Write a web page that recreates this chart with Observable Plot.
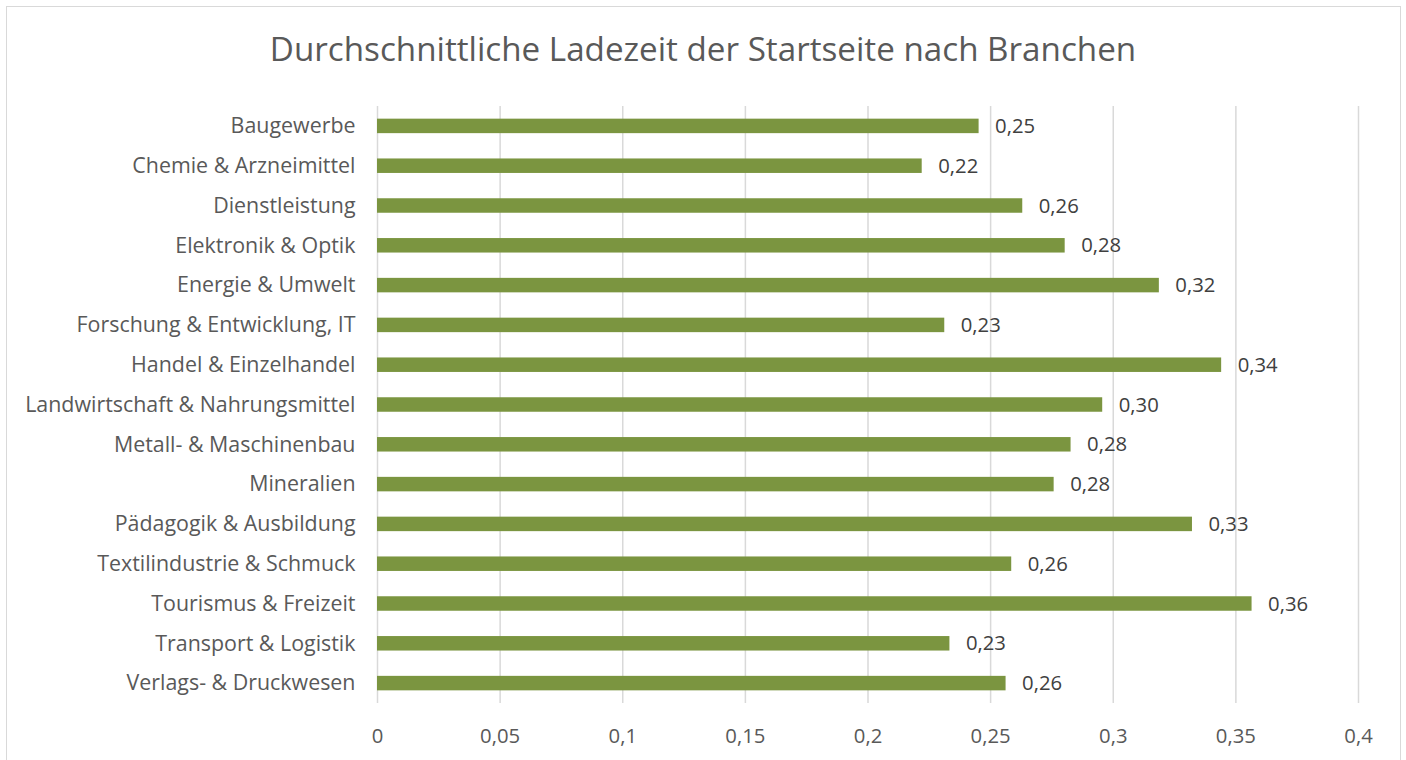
<!DOCTYPE html>
<html>
<head>
<meta charset="utf-8">
<script src="https://cdn.jsdelivr.net/npm/d3@7"></script>
<script src="https://cdn.jsdelivr.net/npm/@observablehq/plot@0.6"></script>
<style>
  html, body { margin: 0; padding: 0; background: #fff; }
  body { width: 1406px; height: 760px; position: relative; overflow: hidden; font-family: "Open Sans", sans-serif; }
  #frame { position: absolute; left: 6px; top: 6px; width: 1395px; height: 800px; border: 1.5px solid #d9d9d9; box-sizing: border-box; }
  #title { position: absolute; left: 0; top: 29px; width: 1406px; text-align: center; font-size: 33.2px; line-height: 40px; color: #595959; }
  #chart { position: absolute; left: 0; top: 90px; }
</style>
</head>
<body>
<div id="frame"></div>
<div id="title">Durchschnittliche Ladezeit der Startseite nach Branchen</div>
<div id="chart"></div>
<script>
const categories = [
  "Baugewerbe",
  "Chemie & Arzneimittel",
  "Dienstleistung",
  "Elektronik & Optik",
  "Energie & Umwelt",
  "Forschung & Entwicklung, IT",
  "Handel & Einzelhandel",
  "Landwirtschaft & Nahrungsmittel",
  "Metall- & Maschinenbau",
  "Mineralien",
  "Pädagogik & Ausbildung",
  "Textilindustrie & Schmuck",
  "Tourismus & Freizeit",
  "Transport & Logistik",
  "Verlags- & Druckwesen"
];
const values = [0.2453, 0.2221, 0.2631, 0.2804, 0.3188, 0.2313, 0.3442, 0.2957, 0.2828, 0.2759, 0.3323, 0.2586, 0.3566, 0.2334, 0.2563];
const xTicks = [0, 0.05, 0.1, 0.15, 0.2, 0.25, 0.3, 0.35, 0.4];

const data = categories.map((c, i) => ({ category: c, value: values[i] }));
const comma = (v) => String(v).replace(".", ",");

const chart = Plot.plot({
  width: 1406,
  height: 670,
  marginLeft: 377,
  marginRight: 48,
  marginTop: 16,
  marginBottom: 57,
  style: { fontFamily: "Open Sans, sans-serif", fontSize: "20px", color: "#595959", background: "transparent" },
  x: { domain: [0, 0.4], ticks: xTicks, label: null },
  y: { domain: categories, paddingInner: 0.636, paddingOuter: 0.318, round: false, label: null },
  marks: [
    Plot.ruleX(xTicks, { stroke: "#d9d9d9", strokeWidth: 1.5 }),
    Plot.barX(data, { x: "value", y: "category", fill: "#7b9540" }),
    Plot.text(data, {
      x: "value", y: "category",
      text: (d) => d.value.toFixed(2).replace(".", ","),
      textAnchor: "start", dx: 16, fill: "#404040", fontSize: 20.3
    }),
    Plot.axisX({ ticks: xTicks, tickSize: 0, tickPadding: 25, tickFormat: comma, label: null, fill: "#595959", fontSize: 20.3 }),
    Plot.axisY({ tickSize: 0, tickPadding: 22, label: null, fill: "#595959", fontSize: 21.4 })
  ]
});
document.getElementById("chart").appendChild(chart);
</script>
</body>
</html>
